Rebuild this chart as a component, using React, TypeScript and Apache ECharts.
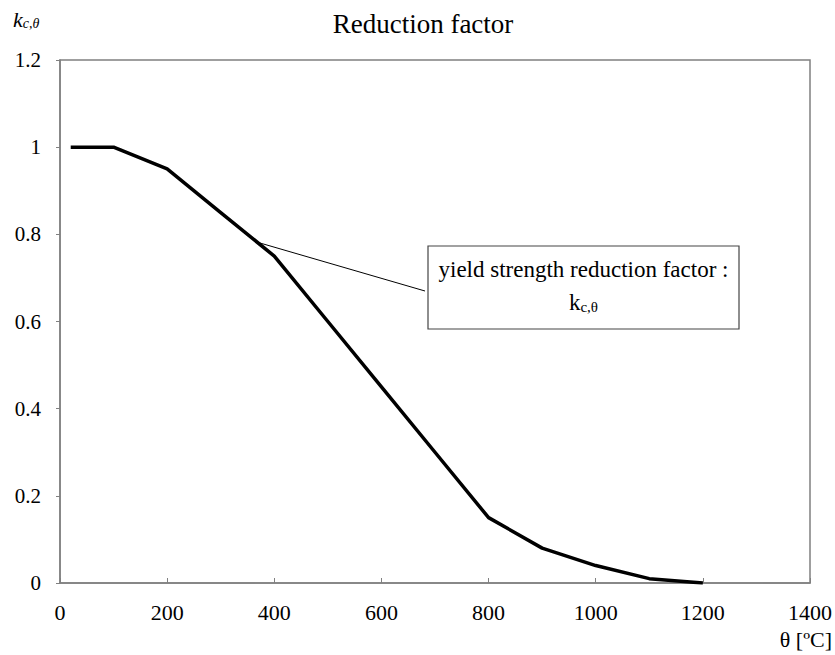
import React, { useEffect, useRef } from "react";
import * as echarts from "echarts";

const temperatures = [20, 100, 200, 300, 400, 500, 600, 700, 800, 900, 1000, 1100, 1200];
const reductionFactor = [1, 1, 0.95, 0.85, 0.75, 0.6, 0.45, 0.3, 0.15, 0.08, 0.04, 0.01, 0];
const leaderPoint = [368, 0.782];

const FONT = "'Liberation Serif', 'Times New Roman', serif";

export default function App() {
  const ref = useRef<HTMLDivElement>(null);
  useEffect(() => {
    document.body.style.margin = "0";
    const chart = echarts.init(ref.current!, null, { renderer: "svg" });
    const axisColor = "#808080";
    chart.setOption({
      animation: false,
      backgroundColor: "#fff",
      title: {
        text: "Reduction factor",
        left: 418,
        top: 5,
        textAlign: "center",
        textStyle: { fontFamily: FONT, fontSize: 27, fontWeight: "normal", color: "#000" },
      },
      grid: {
        left: 60, right: 25, top: 60, bottom: 72,
        show: true, borderColor: axisColor, borderWidth: 1.5, backgroundColor: "transparent",
      },
      xAxis: {
        type: "value", min: 0, max: 1400, interval: 200,
        name: "θ [ºC]", nameLocation: "end", nameGap: 0,
        nameTextStyle: { fontFamily: FONT, fontSize: 22, color: "#000", align: "right", verticalAlign: "top", padding: [45, -22, 0, 0] },
        axisLine: { lineStyle: { color: axisColor, width: 1.5 } },
        axisTick: { inside: true, length: 5, lineStyle: { color: axisColor } },
        axisLabel: { fontFamily: FONT, fontSize: 22, color: "#000", margin: 18, formatter: (v: number) => String(v) },
        splitLine: { show: false },
      },
      yAxis: {
        type: "value", min: 0, max: 1.2, interval: 0.2,
        name: "{k|k}{s|c,θ}", nameLocation: "end", nameGap: 30,
        nameTextStyle: {
          align: "left", padding: [0, 0, 0, -47],
          rich: {
            k: { fontFamily: FONT, fontSize: 22, fontStyle: "italic", color: "#000" },
            s: { fontFamily: FONT, fontSize: 14, fontStyle: "italic", color: "#000", verticalAlign: "bottom", padding: [7, 0, 0, 0] },
          },
        },
        axisLine: { show: true, lineStyle: { color: axisColor, width: 1.5 } },
        axisTick: { show: true, length: 4, lineStyle: { color: axisColor } },
        axisLabel: { fontFamily: FONT, fontSize: 21, color: "#000", margin: 19, formatter: (v: number) => String(+v.toFixed(1)) },
        splitLine: { show: false },
      },
      series: [{
        type: "line",
        data: temperatures.map((t, i) => [t, reductionFactor[i]]),
        showSymbol: false,
        lineStyle: { color: "#000", width: 3.5 },
      }],
    });
    const p = chart.convertToPixel({ gridIndex: 0 }, leaderPoint) as number[];
    const boxX = 428, boxY = 246, boxW = 311, boxH = 83;
    chart.setOption({
      graphic: [
        { type: "line", shape: { x1: p[0], y1: p[1], x2: boxX - 3, y2: 291 }, style: { stroke: "#000", lineWidth: 1 } },
        { type: "rect", shape: { x: boxX, y: boxY, width: boxW, height: boxH }, style: { fill: "#fff", stroke: "#444", lineWidth: 1.2 } },
        {
          type: "text", x: boxX + boxW / 2, y: 269,
          style: { text: "yield strength reduction factor :", fontFamily: FONT, fontSize: 23, fill: "#000", align: "center", verticalAlign: "middle" },
        },
        {
          type: "text", x: boxX + boxW / 2, y: 302,
          style: {
            text: "{k|k}{s|c,θ}", align: "center", verticalAlign: "middle",
            rich: {
              k: { fontFamily: FONT, fontSize: 23, fill: "#000" },
              s: { fontFamily: FONT, fontSize: 15, fill: "#000", verticalAlign: "bottom", padding: [9, 0, 0, 0] },
            },
          },
        },
      ],
    });
    return () => chart.dispose();
  }, []);
  return <div ref={ref} style={{ width: 835, height: 655 }} />;
}
